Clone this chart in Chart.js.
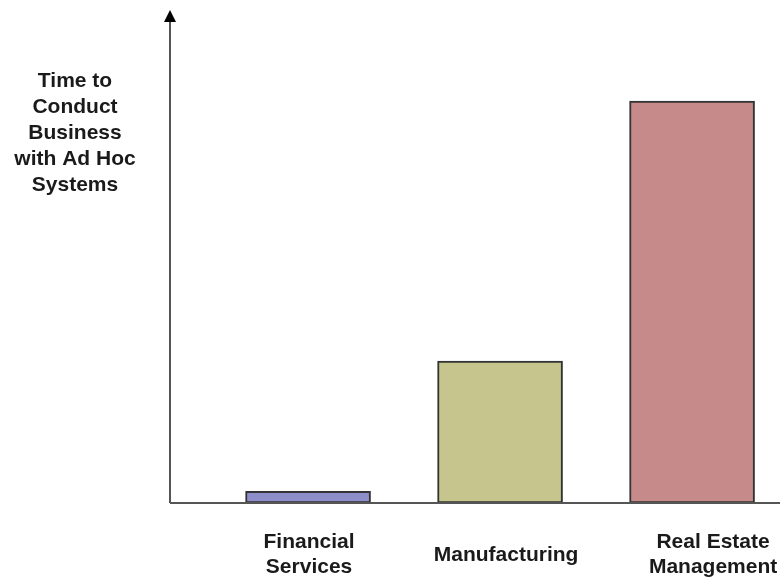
<!DOCTYPE html>
<html>
<head>
<meta charset="utf-8">
<script src="https://cdn.jsdelivr.net/npm/chart.js@4"></script>
<style>
html,body{margin:0;padding:0;background:#fff;}
#wrap{width:780px;height:577px;}
</style>
</head>
<body>
<div id="wrap"><canvas id="myChart" width="780" height="577"></canvas></div>
<script>
// data (arbitrary units, axis has no scale)
const categories = [['Financial','Services'], ['Manufacturing'], ['Real Estate','Management']];
const values = [2.4, 29.4, 83.2];
const barColors = ['#8e8ecb', '#c5c58d', '#c68a8a'];
const yTitle = ['Time to', 'Conduct', 'Business', 'with Ad Hoc', 'Systems'];

const FONT = 'bold 21px "Liberation Sans", Arial, sans-serif';
const labelNudge = [1, 6, 21]; // labels in the original sit a bit right of the bars

// axes with arrow + labels drawn by hand, positions come from chart scales
const decor = {
  id: 'decor',
  afterDatasetsDraw(chart) {
    const ctx = chart.ctx;
    const area = chart.chartArea;
    const xs = chart.scales.x;
    ctx.save();
    ctx.strokeStyle = '#555';
    ctx.lineWidth = 2;
    ctx.beginPath();
    ctx.moveTo(area.left, area.bottom);
    ctx.lineTo(area.right, area.bottom);
    ctx.moveTo(area.left, area.bottom);
    ctx.lineTo(area.left, area.top);
    ctx.stroke();
    // arrow head
    ctx.fillStyle = '#000';
    ctx.beginPath();
    ctx.moveTo(area.left, area.top - 10);
    ctx.lineTo(area.left - 6, area.top + 2);
    ctx.lineTo(area.left + 6, area.top + 2);
    ctx.closePath();
    ctx.fill();

    ctx.font = FONT;
    ctx.fillStyle = '#1a1a1a';
    ctx.textAlign = 'center';
    ctx.textBaseline = 'middle';
    const lh = 25;
    categories.forEach((lab, i) => {
      const cx = xs.getPixelForValue(i + 1) + labelNudge[i];
      const cy = 555 - (lab.length - 1) * lh / 2;
      lab.forEach((t, j) => ctx.fillText(t, cx, cy + j * lh));
    });
    yTitle.forEach((t, j) => ctx.fillText(t, 75, 81 + j * 26));
    ctx.restore();
  }
};

const ctx = document.getElementById('myChart');
new Chart(ctx, {
  type: 'bar',
  data: {
    datasets: [{
      data: categories.map((c, i) => ({x: i + 1, y: values[i]})),
      backgroundColor: barColors,
      borderColor: '#333',
      borderWidth: 2,
      borderSkipped: false,
      barThickness: 125
    }]
  },
  options: {
    responsive: false,
    animation: false,
    layout: {padding: {left: 170, top: 20, right: 0, bottom: 74}},
    plugins: {legend: {display: false}, tooltip: {enabled: false}},
    scales: {
      x: {type: 'linear', min: 0.281, max: 3.458, offset: false, display: false},
      y: {min: 0, max: 100, display: false}
    }
  },
  plugins: [decor]
});
</script>
</body>
</html>
